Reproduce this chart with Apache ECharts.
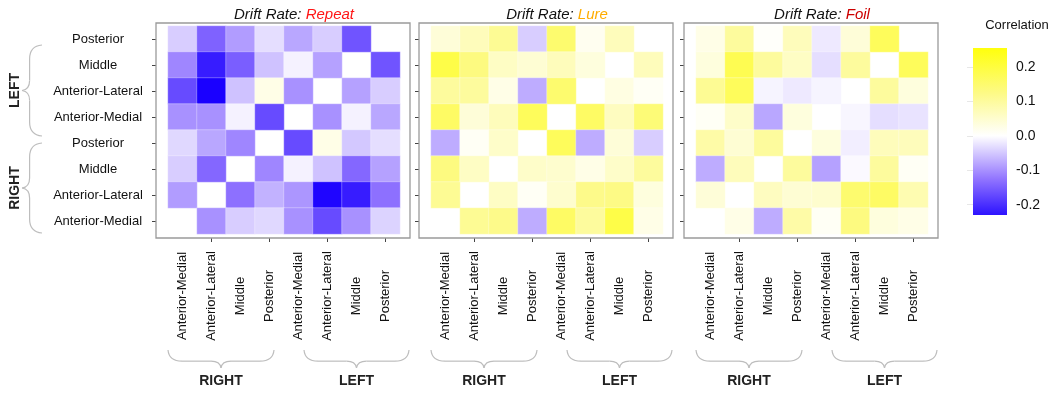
<!DOCTYPE html>
<html>
<head>
<meta charset="utf-8">
<script src="https://cdn.jsdelivr.net/npm/echarts@6/dist/echarts.min.js"></script>
<style>
html, body { margin: 0; padding: 0; background: #fff; }
#chart { width: 1059px; height: 394px; }
</style>
</head>
<body>
<div id="chart"></div>
<script>
var FONT = '"Liberation Sans", Arial, sans-serif';

// axis categories: x runs RIGHT then LEFT; y (bottom -> top) uses the same order
var hemis = ['RIGHT', 'LEFT'];
var regions = ['Anterior-Medial', 'Anterior-Lateral', 'Middle', 'Posterior'];
var categories = [];
hemis.forEach(function (h) {
    regions.forEach(function (r) { categories.push(h + '|' + r); });
});

var panelNames = ['Repeat', 'Lure', 'Foil'];
var panelColors = ['#ff1616', '#ffad00', '#cc0000'];

// rows top -> bottom (LEFT Posterior ... RIGHT Anterior-Medial), cols = categories, null = self
var repeat = [
    [-0.045, -0.145, -0.09, -0.03, -0.08, -0.045, -0.16, null],
    [-0.11, -0.22, -0.15, -0.055, -0.012, -0.085, null, -0.16],
    [-0.17, -0.25, -0.055, 0.025, -0.10, null, -0.085, -0.045],
    [-0.10, -0.10, -0.012, -0.17, null, -0.10, -0.012, -0.08],
    [-0.035, -0.08, -0.11, null, -0.17, 0.025, -0.05, -0.03],
    [-0.045, -0.14, null, -0.11, -0.012, -0.055, -0.14, -0.085],
    [-0.09, null, -0.13, -0.07, -0.095, -0.245, -0.22, -0.13],
    [null, -0.10, -0.045, -0.035, -0.10, -0.17, -0.10, -0.04]
];
var lure = [
    [0.04, 0.07, 0.11, -0.045, 0.15, 0.015, 0.07, null],
    [0.19, 0.13, 0.06, 0.045, 0.07, 0.035, null, 0.07],
    [0.10, 0.10, 0.025, -0.075, 0.15, null, 0.03, 0.01],
    [0.16, 0.04, 0.07, 0.17, null, 0.16, 0.065, 0.14],
    [-0.075, 0.01, 0.055, null, 0.17, -0.075, 0.04, -0.045],
    [0.13, 0.06, null, 0.055, 0.05, 0.025, 0.055, 0.10],
    [0.11, null, 0.06, 0.01, 0.05, 0.12, 0.125, 0.035],
    [null, 0.11, 0.12, -0.075, 0.16, 0.10, 0.19, 0.025]
];
var foil = [
    [0.025, 0.10, 0.005, 0.07, -0.02, 0.04, 0.17, null],
    [0.035, 0.18, 0.10, 0.06, -0.03, 0.10, null, 0.17],
    [0.11, 0.17, -0.01, -0.02, -0.01, null, 0.10, 0.035],
    [0.01, 0.055, -0.08, 0.035, null, -0.008, -0.03, -0.025],
    [0.09, 0.045, 0.10, null, 0.035, -0.015, 0.07, 0.07],
    [-0.075, 0.07, null, 0.10, -0.085, -0.005, 0.10, 0.01],
    [0.04, null, 0.065, 0.045, 0.05, 0.15, 0.16, 0.08],
    [null, 0.025, -0.075, 0.09, 0.01, 0.13, 0.035, 0.025]
];
var matrices = [repeat, lure, foil];

// colour scale (evenly spread from scaleMin to scaleMax)
var scaleMin = -0.25, scaleMax = 0.25;
var scaleColors = ['#1a00ff', '#9275ff', '#ffffff', '#fdfa85', '#ffff10'];
var scaleTicks = [-0.2, -0.1, 0, 0.1, 0.2];
var barMin = -0.23, barMax = 0.255;

// layout
var cellLeft = [168, 431, 696];
var cellTop = 26, cellW = 232, cellH = 208;
var padL = 12, padR = 10, padT = 3, padB = 4;

var chart = echarts.init(document.getElementById('chart'));

var grids = [], xAxes = [], yAxes = [], series = [], titles = [], graphics = [];

cellLeft.forEach(function (L, i) {
    grids.push({ left: L, top: cellTop, width: cellW, height: cellH });
    xAxes.push({
        type: 'category', gridIndex: i, data: categories, offset: padB,
        axisLine: { show: false },
        axisTick: { show: true, alignWithLabel: true, length: 4,
            interval: function (idx) { return idx % 2 === 1; },
            lineStyle: { color: '#444' } },
        axisLabel: { interval: 0, rotate: 90, align: 'center', verticalAlign: 'middle',
            margin: 58, fontSize: 13, color: '#111', fontFamily: FONT,
            formatter: function (v) { return v.split('|')[1]; } },
        splitLine: { show: false }
    });
    yAxes.push({
        type: 'category', gridIndex: i, data: categories, offset: padL,
        axisLine: { show: false },
        axisTick: { show: true, alignWithLabel: true, length: 4, lineStyle: { color: '#444' } },
        axisLabel: { show: i === 0, interval: 0, align: 'center', margin: 58,
            fontSize: 13, color: '#111', fontFamily: FONT,
            formatter: function (v) { return v.split('|')[1]; } },
        splitLine: { show: false }
    });
    var data = [];
    matrices[i].forEach(function (row, r) {
        row.forEach(function (v, c) {
            data.push([c, 7 - r, v === null ? '-' : v]);
        });
    });
    series.push({
        type: 'heatmap', xAxisIndex: i, yAxisIndex: i, data: data,
        itemStyle: { borderColor: 'rgba(255,255,255,0.6)', borderWidth: 0.5 },
        emphasis: { disabled: true }
    });
    titles.push({
        text: '{a|Drift Rate: }{b|' + panelNames[i] + '}',
        left: L + cellW / 2 + 5, top: 2, textAlign: 'center',
        textStyle: { fontWeight: 'normal', rich: {
            a: { fontSize: 15, fontStyle: 'italic', fontWeight: 'normal', color: '#111', fontFamily: FONT },
            b: { fontSize: 15, fontStyle: 'italic', fontWeight: 'normal', color: panelColors[i], fontFamily: FONT }
        } }
    });
});

// colourbar grid (index 3)
var lerp = echarts.color && echarts.color.lerp;
var stops = [];
scaleColors.forEach(function (c, k) {
    var v = scaleMin + k * (scaleMax - scaleMin) / (scaleColors.length - 1);
    var off = (barMax - v) / (barMax - barMin);
    if (off >= 0 && off <= 1) stops.push({ offset: off, color: c });
});
stops.unshift({ offset: 0, color: scaleColors[scaleColors.length - 1] });
var bottomColor = lerp ? lerp((barMin - scaleMin) / (scaleMax - scaleMin), scaleColors) : scaleColors[0];
stops.push({ offset: 1, color: bottomColor });
stops.sort(function (a, b) { return a.offset - b.offset; });

grids.push({ left: 973, top: 48, width: 34, height: 167, show: true, borderWidth: 0,
    backgroundColor: new echarts.graphic.LinearGradient(0, 0, 0, 1, stops) });
xAxes.push({ type: 'value', gridIndex: 3, show: false });
yAxes.push({
    type: 'value', gridIndex: 3, position: 'right', min: barMin, max: barMax,
    axisLine: { show: false }, splitLine: { show: false },
    axisTick: { show: true, inside: true, length: 6, customValues: scaleTicks,
        lineStyle: { color: 'rgba(225,225,225,0.8)', width: 1 } },
    axisLabel: { customValues: scaleTicks, margin: 9, fontSize: 14, color: '#111', fontFamily: FONT,
        formatter: function (v) { return v.toFixed(1); } }
});
titles.push({ text: 'Correlation', left: 1012, top: 14, textAlign: 'center',
    textStyle: { fontSize: 13, fontWeight: 'normal', color: '#111', fontFamily: FONT } });

// frame grids (4..6)
cellLeft.forEach(function (L, i) {
    var gi = grids.length;
    grids.push({ left: L - padL, top: cellTop - padT, width: cellW + padL + padR,
        height: cellH + padT + padB, show: true, borderColor: '#9a9a9a', borderWidth: 1.3,
        backgroundColor: 'transparent', z: 3 });
    xAxes.push({ type: 'value', gridIndex: gi, show: false });
    yAxes.push({ type: 'value', gridIndex: gi, show: false });
});

// braces and group labels
var braceStyle = { stroke: '#bdbdbd', lineWidth: 1.2, fill: null };
function hBrace(x0, x1, y0, h) {
    var xc = (x0 + x1) / 2, ym = y0 + h * 0.62, yt = y0 + h;
    return [
        { type: 'bezierCurve', shape: { x1: x0, y1: y0, cpx1: x0 + 1, cpy1: ym, x2: x0 + 14, y2: ym }, style: braceStyle },
        { type: 'line', shape: { x1: x0 + 14, y1: ym, x2: xc - 10, y2: ym }, style: braceStyle },
        { type: 'bezierCurve', shape: { x1: xc - 10, y1: ym, cpx1: xc - 1, cpy1: ym, x2: xc, y2: yt }, style: braceStyle },
        { type: 'bezierCurve', shape: { x1: x1, y1: y0, cpx1: x1 - 1, cpy1: ym, x2: x1 - 14, y2: ym }, style: braceStyle },
        { type: 'line', shape: { x1: x1 - 14, y1: ym, x2: xc + 10, y2: ym }, style: braceStyle },
        { type: 'bezierCurve', shape: { x1: xc + 10, y1: ym, cpx1: xc + 1, cpy1: ym, x2: xc, y2: yt }, style: braceStyle }
    ];
}
function vBrace(y0, y1, x0, w) {
    var yc = (y0 + y1) / 2, xm = x0 - w * 0.62, xt = x0 - w;
    return [
        { type: 'bezierCurve', shape: { x1: x0, y1: y0, cpx1: xm, cpy1: y0 + 1, x2: xm, y2: y0 + 14 }, style: braceStyle },
        { type: 'line', shape: { x1: xm, y1: y0 + 14, x2: xm, y2: yc - 10 }, style: braceStyle },
        { type: 'bezierCurve', shape: { x1: xm, y1: yc - 10, cpx1: xm, cpy1: yc - 1, x2: xt, y2: yc }, style: braceStyle },
        { type: 'bezierCurve', shape: { x1: x0, y1: y1, cpx1: xm, cpy1: y1 - 1, x2: xm, y2: y1 - 14 }, style: braceStyle },
        { type: 'line', shape: { x1: xm, y1: y1 - 14, x2: xm, y2: yc + 10 }, style: braceStyle },
        { type: 'bezierCurve', shape: { x1: xm, y1: yc + 10, cpx1: xm, cpy1: yc + 1, x2: xt, y2: yc }, style: braceStyle }
    ];
}
var groupFont = 'bold 14px ' + FONT;
var groupSpans = [[0, 106], [136, 241]];
cellLeft.forEach(function (L) {
    hemis.forEach(function (h, k) {
        var a = L + groupSpans[k][0], b = L + groupSpans[k][1];
        graphics = graphics.concat(hBrace(a, b, 350, 18));
        graphics.push({ type: 'text', x: (a + b) / 2, y: 381,
            style: { text: h, font: groupFont, fill: '#222', align: 'center', verticalAlign: 'middle' } });
    });
});
var rowSpans = [[45, 136], [143, 233]];
['LEFT', 'RIGHT'].forEach(function (h, k) {
    graphics = graphics.concat(vBrace(rowSpans[k][0], rowSpans[k][1], 42, 20));
    graphics.push({ type: 'text', x: 15, y: (rowSpans[k][0] + rowSpans[k][1]) / 2, rotation: Math.PI / 2,
        style: { text: h, font: groupFont, fill: '#222', align: 'center', verticalAlign: 'middle' } });
});

chart.setOption({
    backgroundColor: '#fff',
    animation: false,
    title: titles,
    grid: grids,
    xAxis: xAxes,
    yAxis: yAxes,
    visualMap: {
        type: 'continuous', show: false, seriesIndex: [0, 1, 2],
        min: scaleMin, max: scaleMax, inRange: { color: scaleColors }
    },
    series: series,
    graphic: graphics
});
</script>
</body>
</html>
